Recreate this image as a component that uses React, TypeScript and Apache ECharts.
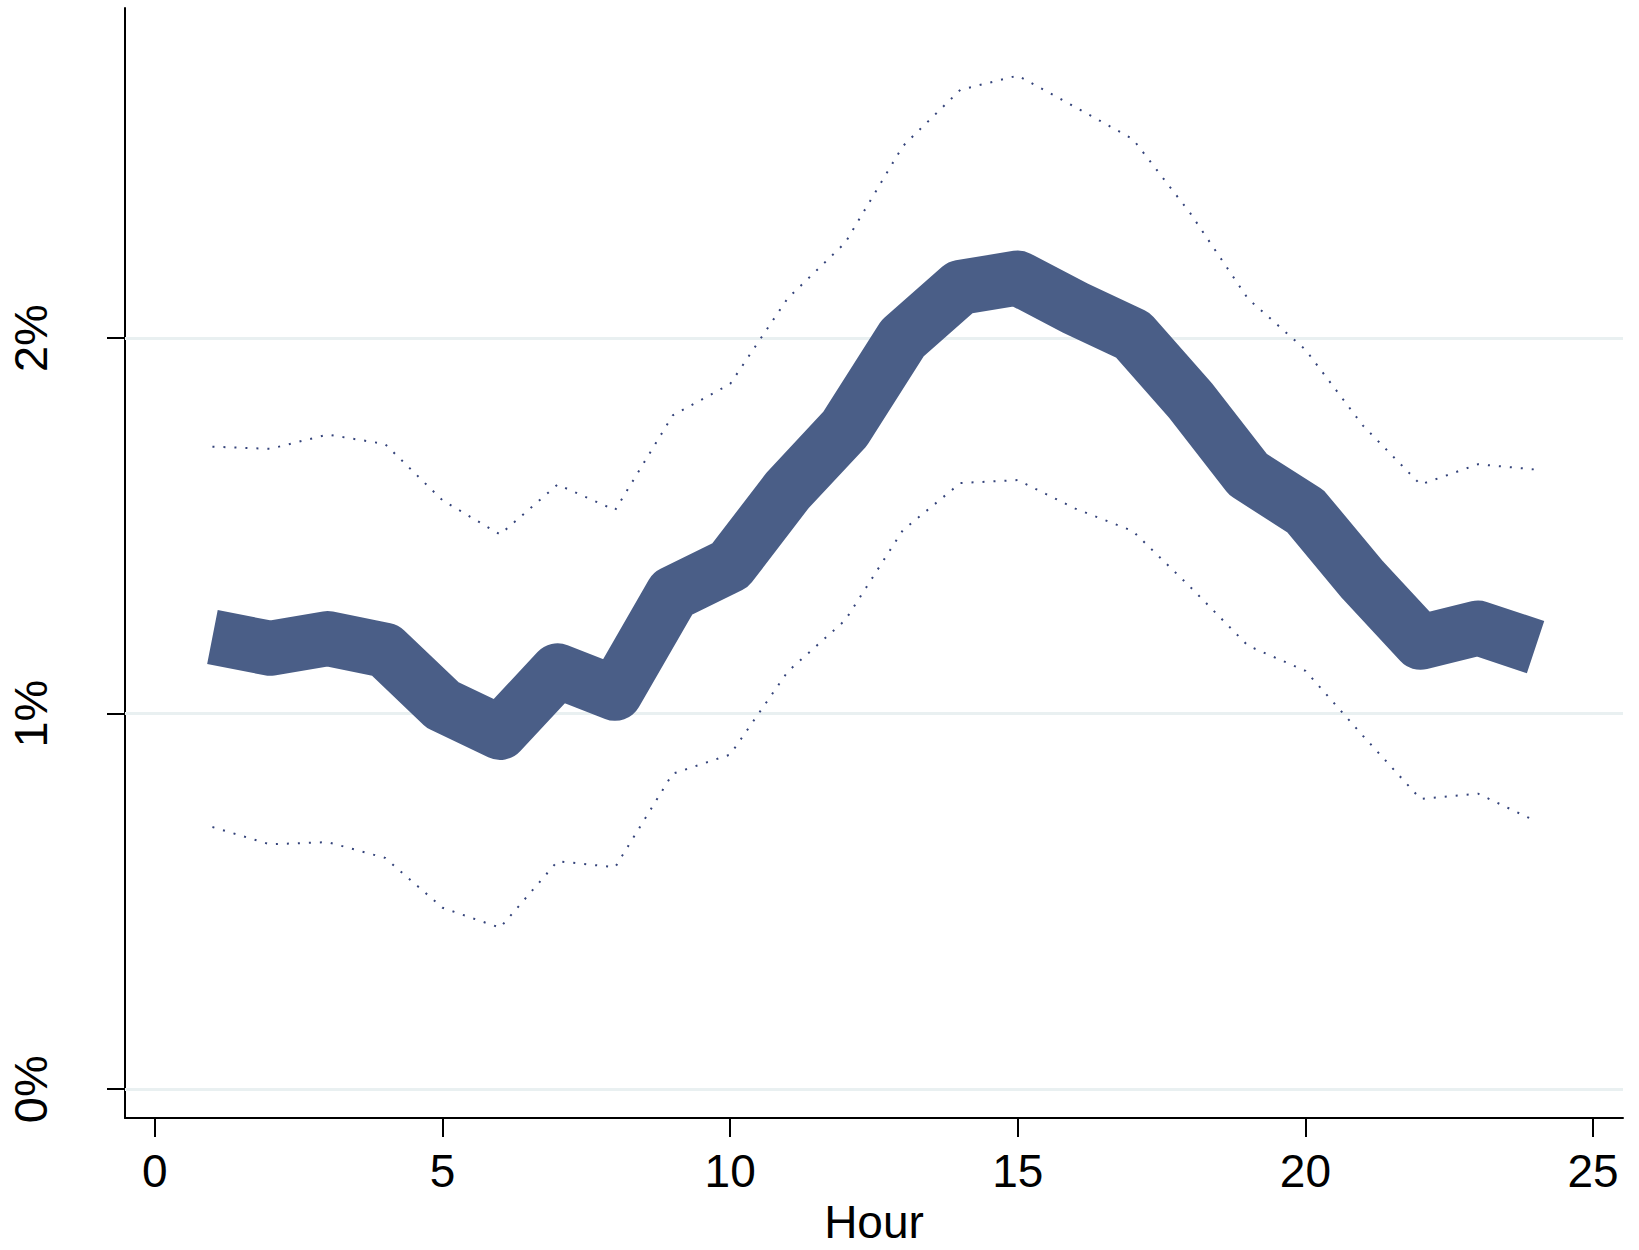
import React, { useEffect, useRef } from "react";
import * as echarts from "echarts";

const hours = [1, 2, 3, 4, 5, 6, 7, 8, 9, 10, 11, 12, 13, 14, 15, 16, 17, 18, 19, 20, 21, 22, 23, 24];
const estimate = [1.204, 1.174, 1.2, 1.169, 1.023, 0.95, 1.114, 1.054, 1.32, 1.395, 1.595, 1.759, 2.0, 2.135, 2.16, 2.08, 2.008, 1.834, 1.637, 1.539, 1.355, 1.19, 1.228, 1.177];
const upperCI = [1.711, 1.705, 1.743, 1.718, 1.568, 1.477, 1.61, 1.542, 1.794, 1.878, 2.106, 2.254, 2.511, 2.661, 2.699, 2.615, 2.53, 2.332, 2.105, 1.969, 1.767, 1.61, 1.664, 1.65];
const lowerCI = [0.698, 0.652, 0.658, 0.616, 0.483, 0.43, 0.607, 0.591, 0.84, 0.891, 1.112, 1.249, 1.488, 1.614, 1.622, 1.546, 1.486, 1.337, 1.181, 1.114, 0.941, 0.773, 0.787, 0.714];
const xTicks = [0, 5, 10, 15, 20, 25];
const yTicks = [0, 1, 2];
const xTitle = "Hour";

const FONT = "'Liberation Sans', Arial, Helvetica, sans-serif";

export default function App() {
  const ref = useRef<HTMLDivElement>(null);
  useEffect(() => {
    if (!ref.current) return;
    const chart = echarts.init(ref.current, undefined, { renderer: "svg" });
    const pair = (ys: number[]) => hours.map((h, i) => [h, ys[i]]);
    const dotted = {
      color: "#34437a",
      width: 2,
      type: [2, 9] as any,
      cap: "butt" as const,
    };
    chart.setOption({
      animation: false,
      backgroundColor: "#ffffff",
      grid: { left: 125, right: 16, top: 8, bottom: 129, containLabel: false },
      xAxis: {
        type: "value",
        min: -0.52,
        max: 25.52,
        name: xTitle,
        nameLocation: "middle",
        nameGap: 76,
        nameTextStyle: { fontFamily: FONT, fontSize: 46, color: "#000" },
        axisLine: { show: true, onZero: false, lineStyle: { color: "#000", width: 2 } },
        axisTick: { show: true, customValues: xTicks, length: 19, lineStyle: { color: "#000", width: 2 } },
        axisLabel: {
          customValues: xTicks,
          margin: 30,
          fontFamily: FONT,
          fontSize: 46,
          color: "#000",
        },
        splitLine: { show: false },
      },
      yAxis: {
        type: "value",
        min: -0.077,
        max: 2.879,
        axisLine: { show: true, onZero: false, lineStyle: { color: "#000", width: 2 } },
        axisTick: { show: true, customValues: yTicks, length: 18, lineStyle: { color: "#000", width: 2 } },
        axisLabel: {
          customValues: yTicks,
          rotate: 90,
          margin: 71,
          fontFamily: FONT,
          fontSize: 47,
          color: "#000",
          formatter: (v: number) => `${Math.round(v)}%`,
        },
        splitLine: { show: false },
      },
      series: [
        {
          type: "line",
          data: pair(lowerCI),
          showSymbol: false,
          lineStyle: dotted,
          z: 2,
          markLine: {
            silent: true,
            symbol: ["none", "none"],
            label: { show: false },
            lineStyle: { color: "#e9f0f1", width: 3, type: "solid" },
            data: yTicks.map((v) => ({ yAxis: v })),
            z: 1,
          },
        },
        {
          type: "line",
          data: pair(upperCI),
          showSymbol: false,
          lineStyle: dotted,
          z: 2,
        },
        {
          type: "line",
          data: pair(estimate),
          showSymbol: false,
          lineStyle: { color: "#4a5e87", width: 55, cap: "butt", join: "round" },
          z: 3,
        },
      ],
    });
    return () => chart.dispose();
  }, []);
  return (
    <div
      ref={ref}
      style={{ position: "absolute", left: 0, top: 0, width: 1639, height: 1250, background: "#fff" }}
    />
  );
}
